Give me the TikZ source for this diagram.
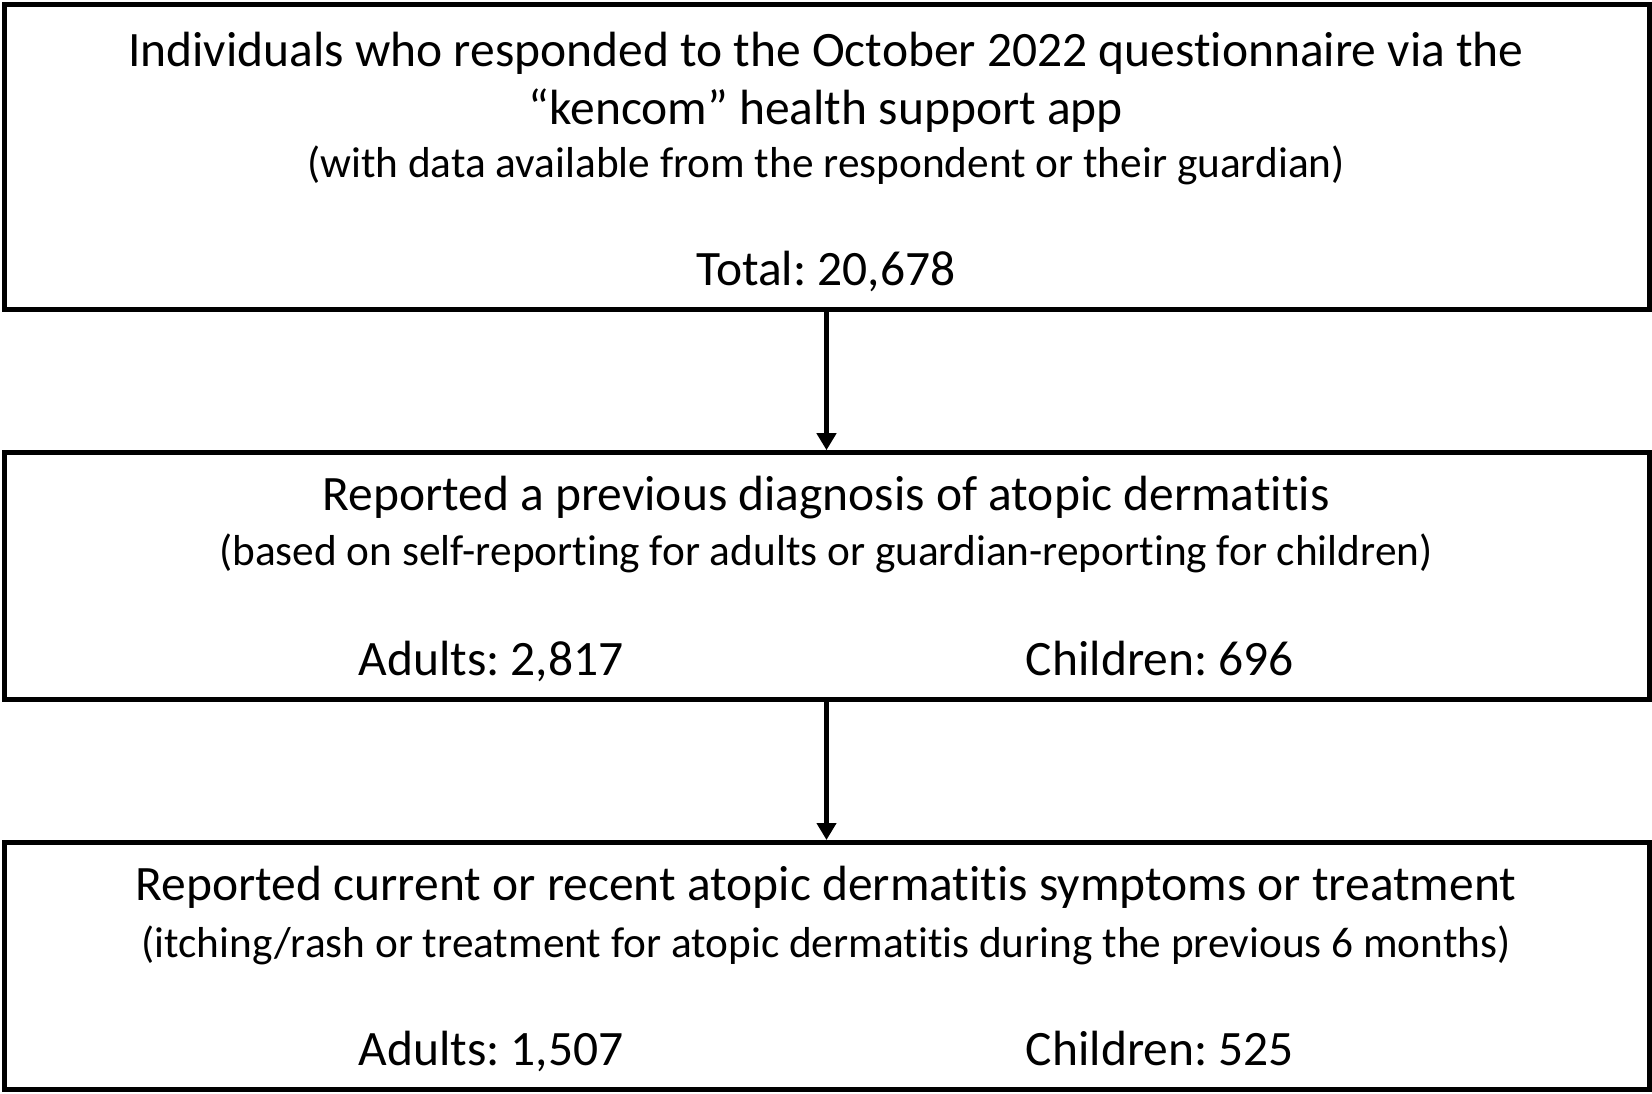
\documentclass[tikz,border=0pt]{standalone}
\usepackage{fontspec}
\setmainfont{Carlito}[Ligatures={NoCommon}]
\usetikzlibrary{arrows.meta}
\tikzset{
  box/.style={draw=black, line width=5pt, rectangle, inner sep=0pt, fill=none},
  title/.style={inner sep=0pt, anchor=base, font=\fontsize{49.5}{56}\selectfont},
  sub/.style={inner sep=0pt, anchor=base, font=\fontsize{43.3}{50}\selectfont},
  num/.style={inner sep=0pt, anchor=base, font=\fontsize{49.5}{56}\selectfont},
  conn/.style={line width=5pt, -{Triangle[width=19pt,length=17pt]}}
}
\frenchspacing
\begin{document}
\begin{tikzpicture}[x=1pt,y=-1pt]
\useasboundingbox[fill=white] (0,0) rectangle (1652,1093);
\node[box, minimum width=1645pt, minimum height=305.5pt] (b1) at (826.5,156.75) {};
\node[box, minimum width=1645pt, minimum height=246.3pt] (b2) at (826.5,575.85) {};
\node[box, minimum width=1645pt, minimum height=246.5pt] (b3) at (826.5,965.75) {};
\node[title] (t1a) at (826,66) {Individuals who responded to the October 2022 questionnaire via the};
\node[title] (t1b) at (826,124) {“kencom” health support app};
\node[sub] (t1c) at (826,177) {(with data available from the respondent or their guardian)};
\node[num] (t1d) at (826,285) {Total: 20,678};
\node[title] (t2a) at (826,510) {Reported a previous diagnosis of atopic dermatitis};
\node[sub] (t2b) at (826,565) {(based on self-reporting for adults or guardian-reporting for children)};
\node[num] (t2c) at (491,675) {Adults: 2,817};
\node[num] (t2d) at (1160,675) {Children: 696};
\node[title] (t3a) at (826,900) {Reported current or recent atopic dermatitis symptoms or treatment};
\node[sub] (t3b) at (826,957) {(itching/rash or treatment for atopic dermatitis during the previous 6 months)};
\node[num] (t3c) at (491,1065) {Adults: 1,507};
\node[num] (t3d) at (1160,1065) {Children: 525};
\draw[conn] (b1.south) -- (b2.north);
\draw[conn] (b2.south) -- (b3.north);
\end{tikzpicture}
\end{document}
